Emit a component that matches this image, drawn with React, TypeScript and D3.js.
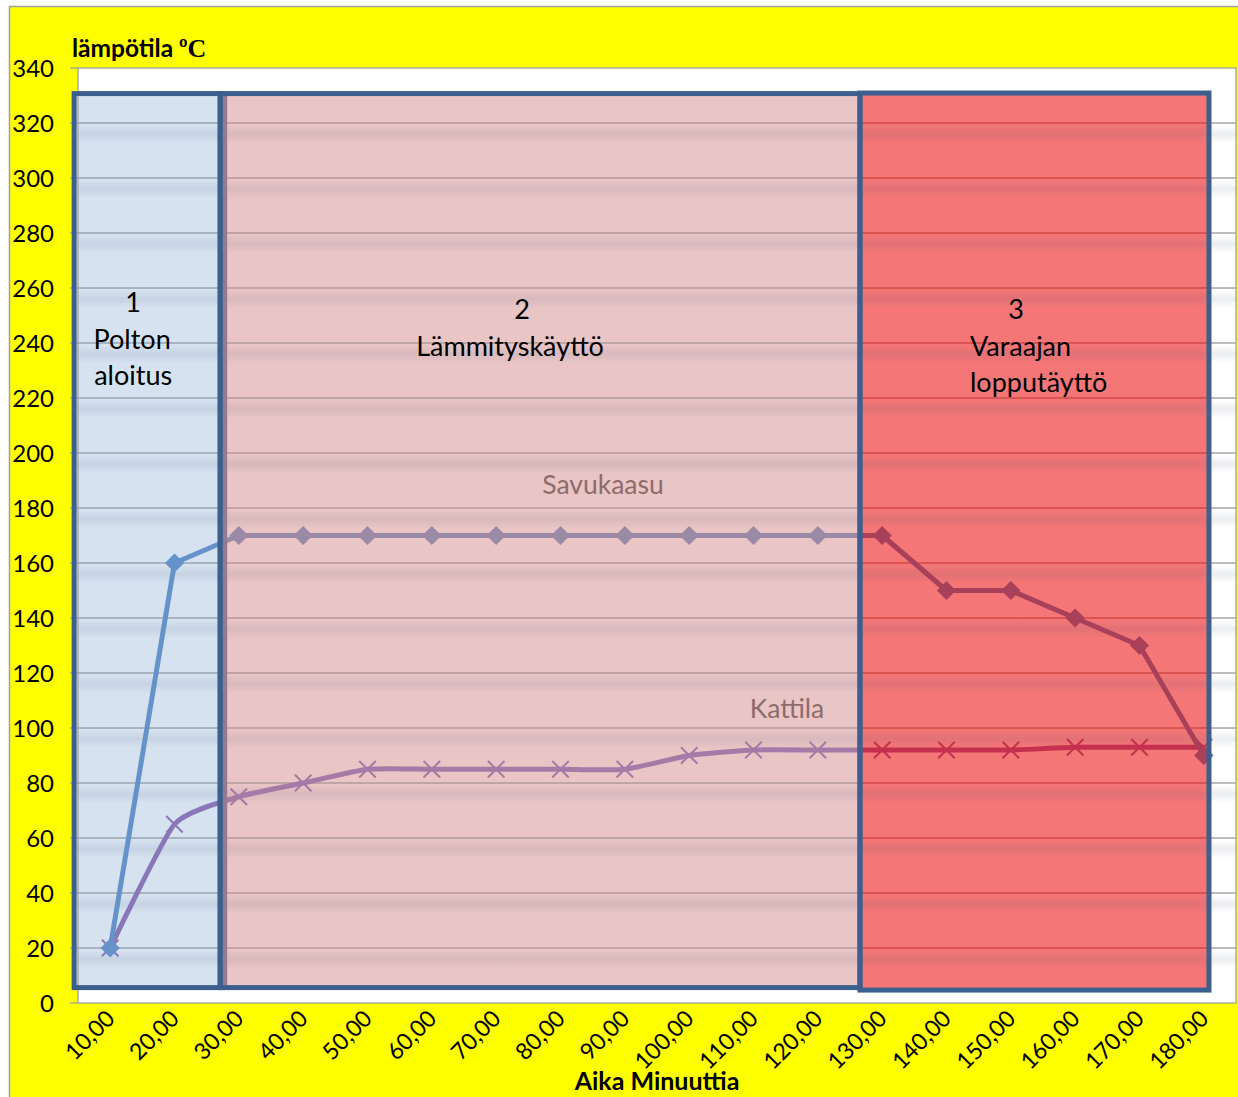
import React from "react";
import * as d3 from "d3";

const categories = [10, 20, 30, 40, 50, 60, 70, 80, 90, 100, 110, 120, 130, 140, 150, 160, 170, 180];
const categoryLabels = categories.map((c) => `${c},00`);
const savukaasu = [20, 160, 170, 170, 170, 170, 170, 170, 170, 170, 170, 170, 170, 150, 150, 140, 130, 90];
const kattila = [20, 65, 75, 80, 85, 85, 85, 85, 85, 90, 92, 92, 92, 92, 92, 93, 93, 93];
const yTicks = [0, 20, 40, 60, 80, 100, 120, 140, 160, 180, 200, 220, 240, 260, 280, 300, 320, 340];

// Phase regions (in minutes / °C units)
const regionStart = [4.4, 27.1, 126.55];
const regionEnd = [27.1, 126.55, 180.8];
const regionTop = [330.7, 330.7, 330.9];
const regionBottom = [5.6, 5.6, 4.7];
const regionFill = ["#d6e2f0", "#e9c5c5", "#f47676"];
const regionGrid = ["#9aa4b0", "#b39a9a", "#d24a4a"];
const regionSavu = ["#6593c9", "#9b8aa6", "#a8405a"];
const regionKatt = ["#8a77b8", "#a67aa6", "#c5304e"];
const regionLines = [
  [{ t: "1", dx: 59, anchor: "middle", y: 312 }, { t: "Polton", dx: 58, anchor: "middle", y: 349 }, { t: "aloitus", dx: 59, anchor: "middle", y: 385 }],
  [{ t: "2", dx: 302, anchor: "middle", y: 319 }, { t: "Lämmityskäyttö", dx: 196, anchor: "start", y: 356 }],
  [{ t: "3", dx: 156, anchor: "middle", y: 319 }, { t: "Varaajan", dx: 110, anchor: "start", y: 356 }, { t: "lopputäyttö", dx: 110, anchor: "start", y: 392 }],
];

const W = 1238;
const H = 1097;
const plot = { left: 78, right: 1236, top: 68, bottom: 1003 };
const FONT = "Lato, 'Open Sans', sans-serif";

export default function App() {
  const x = d3.scaleBand<number>().domain(categories).range([plot.left, plot.right]);
  const cx = (c: number) => (x(c) as number) + x.bandwidth() / 2;
  const xLin = d3.scaleLinear().domain([10, 180]).range([cx(10), cx(180)]);
  const y = d3.scaleLinear().domain([0, 340]).range([plot.bottom, plot.top]);

  const savuPts: [number, number][] = categories.map((c, i) => [cx(c), y(savukaasu[i])]);
  const kattPts: [number, number][] = categories.map((c, i) => [cx(c), y(kattila[i])]);
  const straight = d3.line();
  const smooth = d3.line().curve(d3.curveCardinal.tension(0.45));
  const diamond = d3.symbol(d3.symbolSquare, 185)();
  const times = d3.symbol(d3.symbolTimes, 180)();

  const gridYs = yTicks.filter((t) => t > 0 && t < 340);

  const series = (gridColor: string, savuColor: string, kattColor: string, key: string) => (
    <g key={key}>
      {gridYs.map((t) => (
        <g key={t}>
          <rect x={plot.left} width={plot.right - plot.left} y={y(t) + 2} height={18} fill="url(#shade)" />
          <line x1={plot.left} x2={plot.right} y1={y(t)} y2={y(t)} stroke={gridColor} strokeWidth={1.3} />
        </g>
      ))}
      <path d={smooth(kattPts) as string} fill="none" stroke={kattColor} strokeWidth={5} strokeLinejoin="round" />
      {kattPts.map((p, i) => (
        <path key={i} d={times as string} transform={`translate(${p[0]},${p[1]})`} fill="none" stroke={kattColor} strokeWidth={2} />
      ))}
      <path d={straight(savuPts) as string} fill="none" stroke={savuColor} strokeWidth={5} strokeLinejoin="round" />
      {savuPts.map((p, i) => (
        <path key={i} d={diamond as string} transform={`translate(${p[0]},${p[1]}) rotate(45)`} fill={savuColor} />
      ))}
    </g>
  );

  return (
    <svg width={W} height={H} style={{ display: "block", position: "absolute", left: 0, top: 0 }}>
      <defs>
        <linearGradient id="shade" x1="0" x2="0" y1="0" y2="1">
          <stop offset="0" stopColor="#3a4a6a" stopOpacity={0} />
          <stop offset="0.5" stopColor="#3a4a6a" stopOpacity={0.1} />
          <stop offset="1" stopColor="#3a4a6a" stopOpacity={0} />
        </linearGradient>
        {regionStart.map((s, i) => (
          <clipPath id={`reg${i}`} key={i}>
            <rect x={xLin(s)} y={y(regionTop[i])} width={xLin(regionEnd[i]) - xLin(s)} height={y(regionBottom[i]) - y(regionTop[i])} />
          </clipPath>
        ))}
      </defs>
      <rect x={0} y={0} width={W} height={H} fill="#ffffff" />
      <rect x={9} y={6} width={W - 9} height={H - 6} fill="#ffff00" />
      <line x1={9} x2={W} y1={6.5} y2={6.5} stroke="#a0a0a0" strokeWidth={1.5} />
      <line x1={9.5} x2={9.5} y1={6} y2={H} stroke="#a0a0a0" strokeWidth={1.5} />

      <rect x={plot.left} y={plot.top} width={plot.right - plot.left} height={plot.bottom - plot.top} fill="#ffffff" />
      {series("#a6a6a6", "#4f81bd", "#8064a2", "outside")}

      {regionStart.map((s, i) => (
        <g key={i} clipPath={`url(#reg${i})`}>
          <rect x={xLin(s)} y={y(regionTop[i])} width={xLin(regionEnd[i]) - xLin(s)} height={y(regionBottom[i]) - y(regionTop[i])} fill={regionFill[i]} />
          {series(regionGrid[i], regionSavu[i], regionKatt[i], `r${i}`)}
        </g>
      ))}

      {/* plot frame */}
      <rect x={plot.left} y={plot.top} width={plot.right - plot.left} height={plot.bottom - plot.top} fill="none" stroke="#a0a0a0" strokeWidth={1.3} />
      {yTicks.map((t) => (
        <line key={t} x1={70} x2={plot.left} y1={y(t)} y2={y(t)} stroke="#a0a0a0" strokeWidth={1.3} />
      ))}

      {/* inner shadow strip at start of phase 2 */}
      <rect x={xLin(regionStart[1]) + 2} y={y(regionTop[1]) + 2} width={5} height={y(regionBottom[1]) - y(regionTop[1]) - 4} fill="#927a93" />

      {/* region borders */}
      {regionStart.map((s, i) => (
        <rect key={i} x={xLin(s)} y={y(regionTop[i])} width={xLin(regionEnd[i]) - xLin(s)} height={y(regionBottom[i]) - y(regionTop[i])} fill="none" stroke="#3c5f8d" strokeWidth={5} />
      ))}

      {/* region labels */}
      {regionLines.map((lines, i) =>
        lines.map((l, j) => (
          <text key={`${i}-${j}`} x={xLin(regionStart[i]) + l.dx} y={l.y} textAnchor={l.anchor as any} fontFamily={FONT} fontSize={27} fill="#000">
            {l.t}
          </text>
        ))
      )}

      {/* series labels */}
      <text x={603} y={494} textAnchor="middle" fontFamily={FONT} fontSize={26.5} fill="#8c6c6c">Savukaasu</text>
      <text x={787} y={718} textAnchor="middle" fontFamily={FONT} fontSize={26.5} fill="#8c6c6c">Kattila</text>

      {/* y tick labels */}
      {yTicks.map((t) => (
        <text key={t} x={54} y={y(t)} dy="0.36em" textAnchor="end" fontFamily={FONT} fontSize={24} fill="#000">
          {t}
        </text>
      ))}

      {/* x tick labels */}
      {categories.map((c, i) => (
        <text key={c} transform={`translate(${cx(c) + 6},${1020}) rotate(-45)`} textAnchor="end" fontFamily={FONT} fontSize={23} fill="#000">
          {categoryLabels[i]}
        </text>
      ))}

      {/* titles */}
      <text x={72} y={57} fontFamily={FONT} fontWeight="bold" fontSize={24.5} fill="#000">
        lämpötila <tspan fontFamily="'Liberation Serif', serif" fontSize={26}>ºC</tspan>
      </text>
      <text x={657} y={1090} textAnchor="middle" fontFamily={FONT} fontWeight="bold" fontSize={25} fill="#000">
        Aika Minuuttia
      </text>
    </svg>
  );
}
